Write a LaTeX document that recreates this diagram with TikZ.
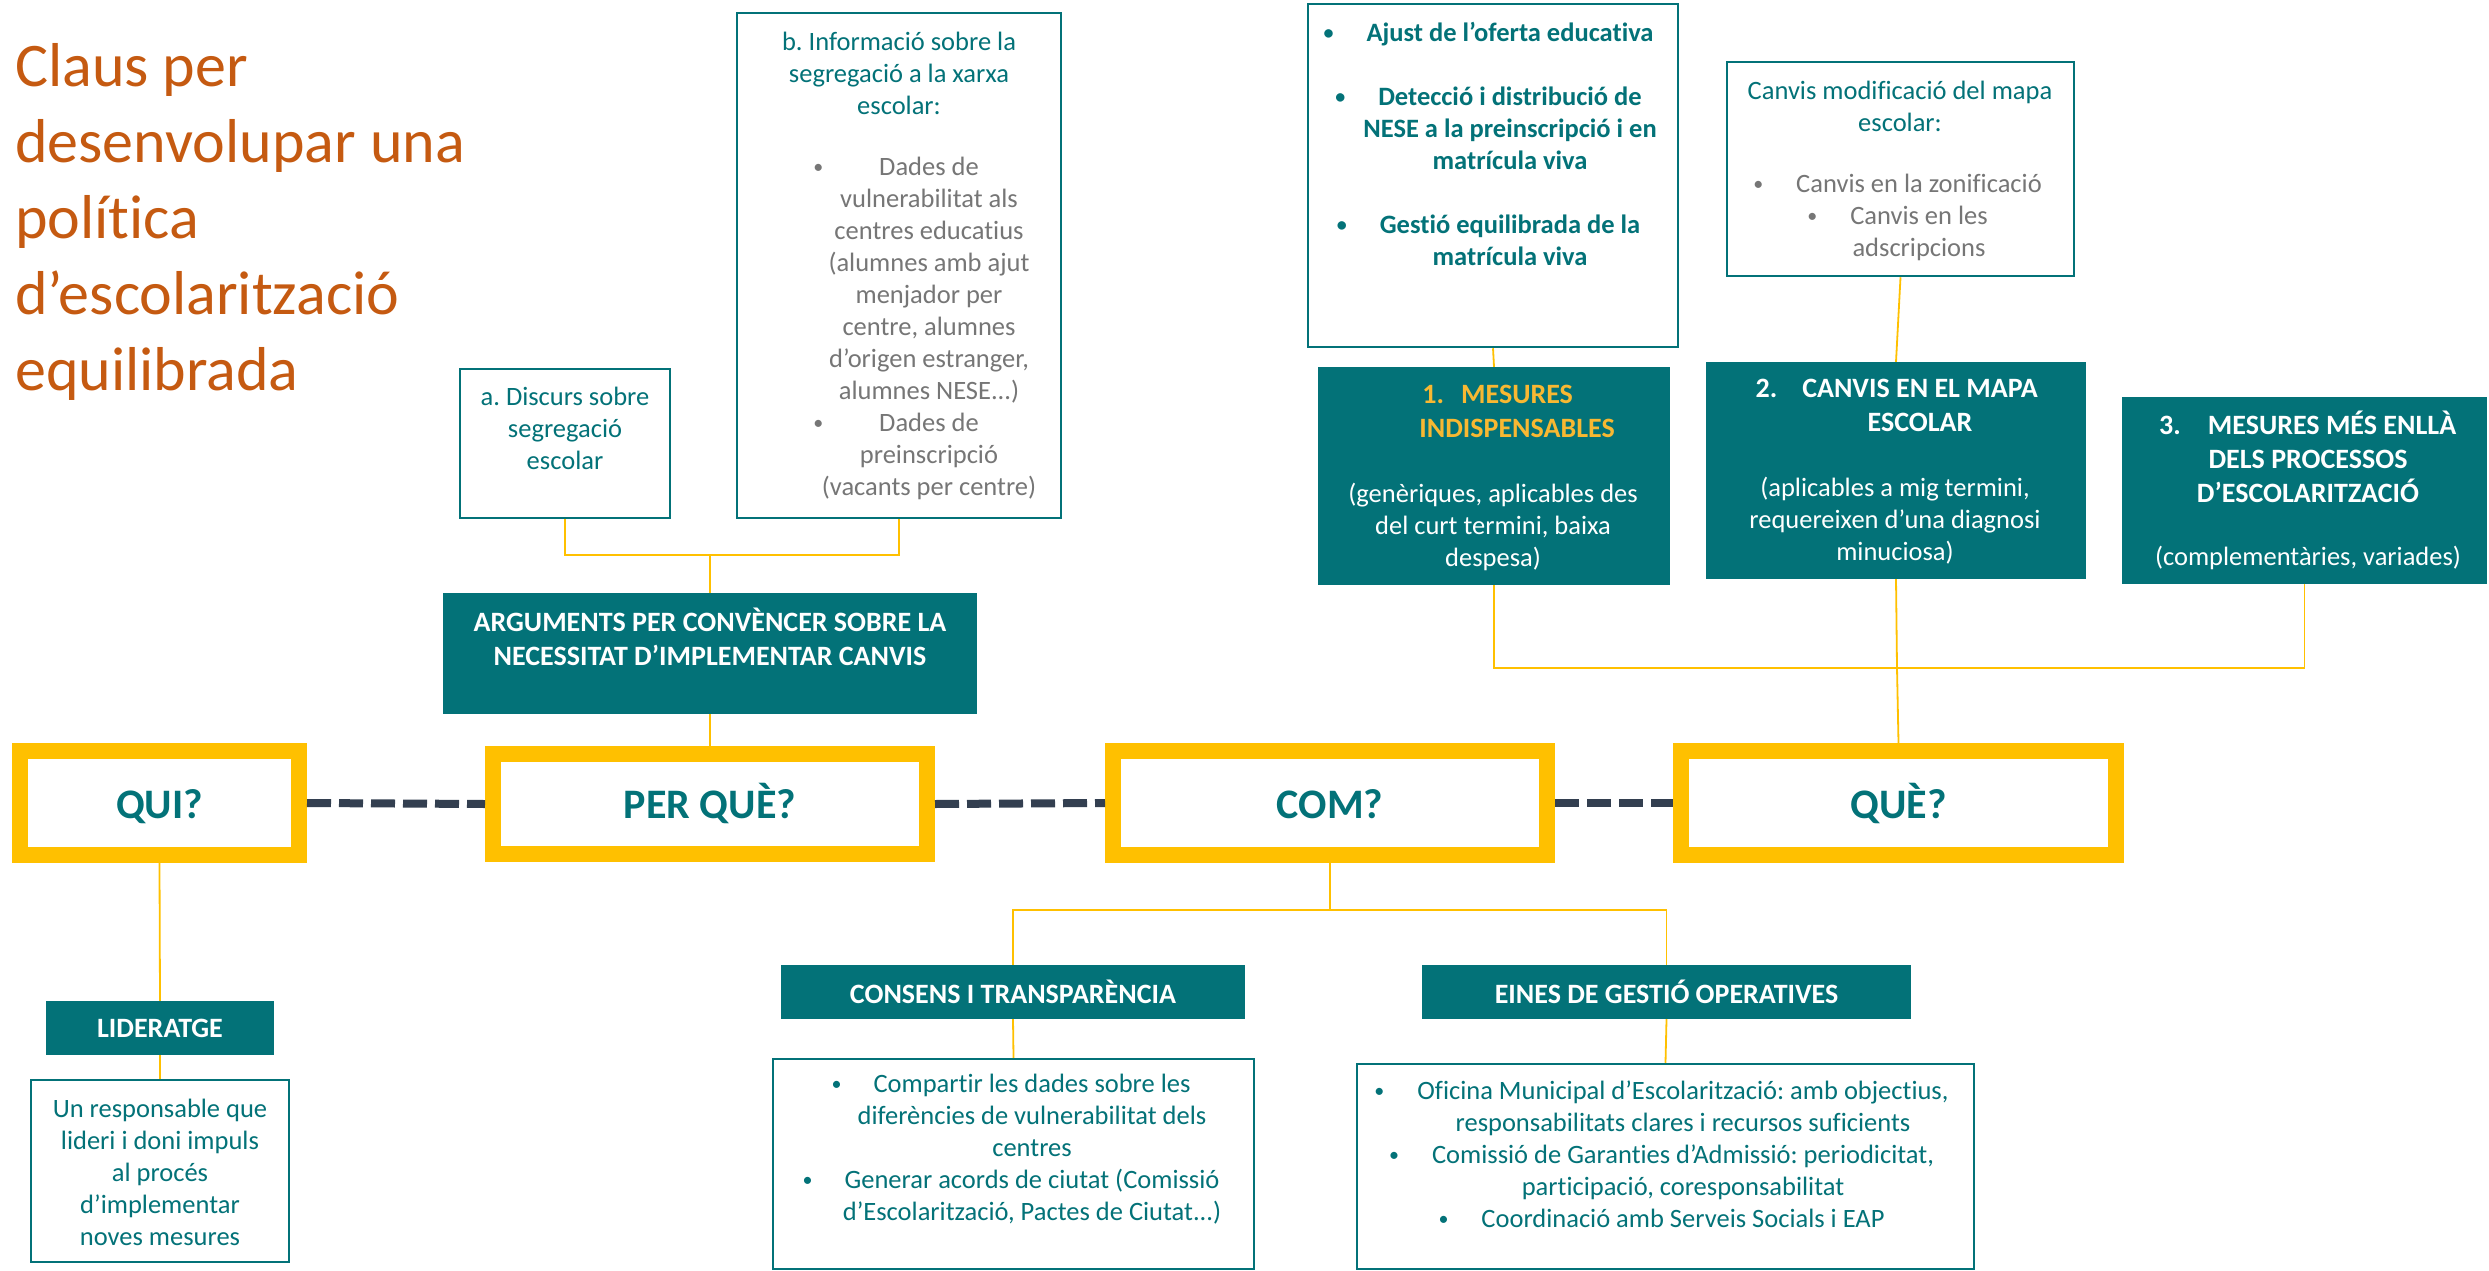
\documentclass[tikz,border=0pt]{standalone}
\usepackage{fontspec}
\setmainfont{Carlito}[RawFeature=-liga]
\frenchspacing
\definecolor{tealc}{HTML}{037278}
\definecolor{orng}{HTML}{C55A11}
\definecolor{gold}{HTML}{FFC000}
\definecolor{goldtxt}{HTML}{F8B832}
\definecolor{slate}{HTML}{333F50}
\definecolor{gry}{HTML}{767676}
\newcommand\hbul[1]{\llap{\raisebox{1.8pt}{\fontsize{20}{20}\selectfont •}\hspace{#1}}}
\newcommand\hnum[2]{\llap{#1\hspace{#2}}}
\begin{document}
\begin{tikzpicture}[x=1pt,y=-1pt,
  body/.style={inner sep=0pt, align=center, font=\fontsize{26.5}{32}\selectfont},
  head/.style={inner sep=0pt, align=center, font=\fontsize{28}{34}\selectfont\bfseries},
  big/.style={inner sep=0pt, anchor=base, text=tealc, font=\fontsize{42}{50}\selectfont\bfseries},
  frame/.style={draw=gold, line width=16pt, fill=white, inner sep=0pt},
  tbox/.style={fill=tealc, inner sep=0pt, text=white},
  obox/.style={draw=tealc, line width=2.5pt, fill=white, inner sep=0pt},
  link/.style={draw=gold, line width=1.8pt},
  dashline/.style={draw=slate, line width=8pt, dash pattern=on 24pt off 8pt},
]
\useasboundingbox (0,0) rectangle (2489,1271);

% title
\node[anchor=north west, inner sep=0pt, align=left, text=orng,
      font=\fontsize{62}{76}\selectfont] (title) at (15,43)
  {Claus per\\desenvolupar una\\política\\d’escolarització\\equilibrada};

% ---------- boxes ----------
\node[obox, minimum width=210pt, minimum height=149pt] (boxA) at (565,443.5) {};
\node[obox, minimum width=324pt, minimum height=505pt] (boxB) at (899,265.5) {};
\node[tbox, minimum width=534pt, minimum height=121pt] (args) at (710,653.5) {};

\node[frame, minimum width=279pt, minimum height=104pt] (qui) at (159.5,803) {};
\node[frame, minimum width=434pt, minimum height=100pt] (perque) at (710,804) {};
\node[frame, minimum width=434pt, minimum height=104pt] (com) at (1330,803) {};
\node[frame, minimum width=435pt, minimum height=104pt] (que) at (1898.5,803) {};

\node[obox, minimum width=370pt, minimum height=343pt] (ajust) at (1493,175.5) {};
\node[obox, minimum width=347pt, minimum height=214pt] (cmod) at (1900.5,169) {};
\node[tbox, minimum width=352pt, minimum height=218pt] (m1) at (1494,476) {};
\node[tbox, minimum width=380pt, minimum height=217pt] (m2) at (1896,470.5) {};
\node[tbox, minimum width=365pt, minimum height=187pt] (m3) at (2304.5,490.5) {};

\node[tbox, minimum width=228pt, minimum height=54pt, head] (lider) at (160,1028) {LIDERATGE};
\node[obox, minimum width=258pt, minimum height=182pt] (unresp) at (160,1171) {};
\node[tbox, minimum width=464pt, minimum height=54pt, head] (consens) at (1013,992) {CONSENS I TRANSPARÈNCIA};
\node[obox, minimum width=481pt, minimum height=210pt] (compartir) at (1013.5,1164) {};
\node[tbox, minimum width=489pt, minimum height=54pt, head] (eines) at (1666.5,992) {EINES DE GESTIÓ OPERATIVES};
\node[obox, minimum width=617pt, minimum height=205pt] (oficina) at (1665.5,1166.5) {};

% ---------- texts ----------
\node[body, text=tealc] (tA) at (565,428) {a. Discurs sobre\\segregació\\escolar};
\node[body, text=tealc] (tBh) at (899,73) {b. Informació sobre la\\segregació a la xarxa\\escolar:};
\node[body, text=gry] (tBl) at (929,328)
  {\hbul{56pt}Dades de\\vulnerabilitat als\\centres educatius\\(alumnes amb ajut\\menjador per\\centre, alumnes\\d’origen estranger,\\alumnes NESE...)\\\hbul{56pt}Dades de\\preinscripció\\(vacants per centre)};
\node[head, text=white] (targs) at (710,637)
  {ARGUMENTS PER CONVÈNCER SOBRE LA\\NECESSITAT D’IMPLEMENTAR CANVIS};

\node[big] (tqui) at (159.5,818) {QUI?};
\node[big] (tperque) at (710,818) {PER QUÈ?};
\node[big] (tcom) at (1330,818) {COM?};
\node[big] (tque) at (1898.5,818) {QUÈ?};

\node[body, text=tealc, font=\fontsize{26.5}{32}\selectfont\bfseries] (tajust) at (1510,143.5)
  {\hbul{33pt}Ajust de l’oferta educativa\\ \strut\\\hbul{33pt}Detecció i distribució de\\NESE a la preinscripció i en\\matrícula viva\\ \strut\\\hbul{33pt}Gestió equilibrada de la\\matrícula viva};
\node[body, text=tealc] (tcmodh) at (1900,106) {Canvis modificació del mapa\\escolar:};
\node[body, text=gry] (tcmodl) at (1919,217)
  {\hbul{33pt}Canvis en la zonificació\\\hbul{33pt}Canvis en les\\adscripcions};

\node[head, text=goldtxt] (tm1h) at (1517,411)
  {\hnum{1.}{17pt}MESURES\\INDISPENSABLES};
\node[body, text=white] (tm1b) at (1493,527)
  {(genèriques, aplicables des\\del curt termini, baixa\\despesa)};
\node[head, text=white] (tm2h) at (1920,405.5)
  {\hnum{2.}{25pt}CANVIS EN EL MAPA\\ESCOLAR};
\node[body, text=white] (tm2b) at (1895,521)
  {(aplicables a mig termini,\\requereixen d’una diagnosi\\minuciosa)};
\node[head, text=white] (tm3h) at (2308,457)
  {\hspace*{48pt}\hnum{3.}{27pt}MESURES MÉS ENLLÀ\\DELS PROCESSOS\\D’ESCOLARITZACIÓ};
\node[body, text=white] (tm3b) at (2308,558) {(complementàries, variades)};

\node[body, text=tealc] (tunresp) at (160,1172.5)
  {Un responsable que\\lideri i doni impuls\\al procés\\d’implementar\\noves mesures};
\node[body, text=tealc] (tcomp) at (1032,1149)
  {\hbul{32pt}Compartir les dades sobre les\\diferències de vulnerabilitat dels\\centres\\\hbul{32pt}Generar acords de ciutat (Comissió\\d’Escolarització, Pactes de Ciutat...)};
\node[body, text=tealc] (tofi) at (1683,1154.5)
  {\hbul{33pt}Oficina Municipal d’Escolarització: amb objectius,\\responsabilitats clares i recursos suficients\\\hbul{33pt}Comissió de Garanties d’Admissió: periodicitat,\\participació, coresponsabilitat\\\hbul{33pt}Coordinació amb Serveis Socials i EAP};

% ---------- connectors ----------
\coordinate (jA) at (710,555);
\coordinate (jM) at (1897,668);
\coordinate (jC) at (1330,910);

\draw[link] (boxA.south) |- (jA) -| (boxB.south);
\draw[link] (jA) -- (args.north);
\draw[link] (args.south) -- (perque.north);
\draw[link] (ajust.south) -- (m1.north);
\draw[link] (cmod.south) -- (m2.north);
\draw[link] (m1.south) |- (jM) -| (m3.south);
\draw[link] (m2.south) -- (jM) -- (que.north);
\draw[link] (qui.south) -- (lider.north);
\draw[link] (lider.south) -- (unresp.north);
\draw[link] (com.south) -- (jC);
\draw[link] (consens.north) -- (consens.north |- jC) -- (eines.north |- jC) -- (eines.north);
\draw[link] (consens.south) -- (compartir.north);
\draw[link] (eines.south) -- (oficina.north);

\draw[dashline] (qui.east) -- (perque.west);
\draw[dashline] (perque.east) -- (com.west);
\draw[dashline] (com.east) -- (que.west);
\end{tikzpicture}
\end{document}
